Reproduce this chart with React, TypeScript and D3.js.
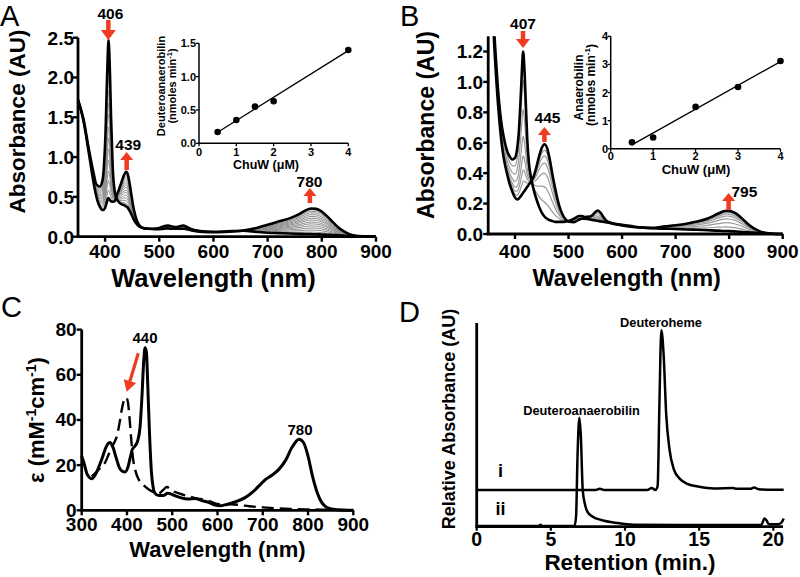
import React from "react";
import * as d3 from "d3";

// ---------- Panel A: spectra (conversion of 406 species to 439/780 species) ----------
const wlA = [350,360,370,380,383,386,390,395,398,401,403,405,406,407,409,411,414,418,422,426,430,434,437,439,441,444,448,452,456,460,465,470,480,490,500,510,515,520,530,540,545,550,560,570,580,600,620,655,680,700,720,740,760,770,780,790,800,810,820,830,840,850,860,880,900];
const startA = [1.72,1.48,1.1,0.76,0.67,0.645,0.63,0.7,0.9,1.35,1.85,2.3,2.47,2.42,2.05,1.5,0.88,0.56,0.47,0.43,0.41,0.4,0.39,0.38,0.37,0.34,0.29,0.23,0.18,0.145,0.12,0.11,0.1,0.1,0.11,0.135,0.14,0.135,0.12,0.135,0.14,0.125,0.095,0.078,0.068,0.062,0.065,0.075,0.06,0.05,0.045,0.04,0.036,0.034,0.032,0.03,0.028,0.025,0.022,0.018,0.014,0.01,0.007,0.003,0];
const endA = [1.72,1.46,1.05,0.63,0.53,0.45,0.38,0.335,0.34,0.38,0.43,0.475,0.487,0.48,0.46,0.445,0.44,0.45,0.53,0.6,0.68,0.76,0.8,0.815,0.8,0.72,0.55,0.38,0.26,0.18,0.13,0.11,0.1,0.095,0.095,0.1,0.105,0.1,0.1,0.1,0.1,0.095,0.078,0.066,0.06,0.056,0.06,0.078,0.11,0.15,0.19,0.23,0.29,0.33,0.355,0.35,0.315,0.255,0.185,0.12,0.07,0.035,0.015,0.004,0];
const fracA = [0.08,0.16,0.24,0.32,0.4,0.47,0.55,0.62,0.69,0.76,0.83,0.89,0.95];

// ---------- Panel B ----------
const wlB = [350,355,360,365,370,375,380,385,390,395,400,404,407,410,412,414,415,416,418,420,423,426,430,435,440,445,450,455,460,465,470,475,480,485,490,495,500,510,520,525,530,540,545,550,555,560,565,570,580,600,620,655,680,700,720,740,760,780,790,795,800,810,820,830,840,850,860,870,880,900];
const startB = [2.6,1.85,1.42,1.12,0.88,0.72,0.62,0.55,0.51,0.49,0.5,0.56,0.66,0.85,1.0,1.15,1.2,1.18,1.06,0.88,0.62,0.47,0.37,0.29,0.23,0.18,0.14,0.115,0.1,0.09,0.085,0.08,0.08,0.08,0.08,0.082,0.085,0.1,0.118,0.118,0.112,0.115,0.125,0.145,0.155,0.14,0.112,0.09,0.072,0.056,0.046,0.038,0.035,0.033,0.03,0.028,0.025,0.022,0.02,0.02,0.019,0.017,0.015,0.012,0.01,0.008,0.006,0.004,0.002,0];
const endB = [2.5,1.75,1.33,1.02,0.78,0.6,0.48,0.4,0.33,0.28,0.24,0.228,0.232,0.245,0.255,0.265,0.27,0.275,0.285,0.295,0.31,0.325,0.345,0.38,0.44,0.51,0.565,0.59,0.565,0.49,0.39,0.3,0.22,0.16,0.12,0.095,0.082,0.078,0.095,0.1,0.1,0.096,0.092,0.089,0.086,0.083,0.08,0.077,0.07,0.06,0.05,0.04,0.05,0.058,0.068,0.082,0.102,0.135,0.15,0.153,0.152,0.14,0.115,0.082,0.052,0.03,0.014,0.006,0.002,0];
const fracB = [0.2,0.41,0.6,0.74,0.84,0.92];

// ---------- Insets ----------
const chuwA = [0.5,1,1.5,2,4];
const rateA = [0.17,0.35,0.55,0.63,1.4];
const fitA: [number, number][] = [[0.5,0.165],[4,1.39]];
const chuwB = [0.5,1,2,3,4];
const rateB = [0.23,0.4,1.49,2.2,3.12];
const fitB: [number, number][] = [[0.5,0.14],[4,3.1]];

// ---------- Panel C ----------
const solidC: [number, number][] = [[300,24],[305,21],[312,16],[322,14],[332,16.5],[345,23],[355,28.5],[362,30],[368,28.5],[375,24],[383,19],[390,17.2],[396,17],[402,19],[408,24],[412,27],[418,28.5],[424,31],[429,37],[433,50],[437,66],[440,72],[443,70],[446,55],[450,33],[454,17],[458,10],[462,7.5],[470,6.5],[480,6.5],[490,7.5],[500,7],[510,6.2],[520,5.5],[535,5],[550,5.2],[565,4.3],[580,3.5],[595,2.3],[605,2],[620,2.6],[640,3.8],[660,5.5],[680,8.5],[695,11.5],[705,13.5],[720,15.5],[735,18],[750,22],[765,28],[780,31.5],[790,30],[800,24],[810,15],[820,8],[830,3.5],[840,1.5],[855,0.5],[880,0.1],[900,0]];
const dashedC: [number, number][] = [[322,15],[330,16.5],[340,18.5],[350,20.5],[358,24],[365,27.5],[372,30],[378,33],[383,38],[388,44],[393,48.5],[398,50],[402,48],[406,40],[410,30],[414,22],[418,18],[425,14],[432,12],[440,10.5],[450,9],[460,8],[470,7.5],[480,9],[488,10.3],[495,9.5],[505,8.2],[515,7.5],[525,6.8],[540,6],[555,5.2],[570,4.8],[585,3.8],[600,2.8],[615,2.5],[630,2.7],[650,2.3],[670,1.8],[700,1.3],[730,0.9],[760,0.6],[800,0.4],[850,0.2],[900,0]];

// ---------- Panel D (HPLC) ----------
const traceI: [number, number][] = [[0,0.18],[4,0.18],[8,0.18],[8.3,0.186],[8.6,0.18],[11.5,0.18],[11.8,0.19],[12.05,0.18],[12.2,0.2],[12.32,0.6],[12.45,0.965],[12.6,0.85],[12.78,0.55],[13.0,0.38],[13.3,0.28],[13.7,0.235],[14.2,0.21],[15,0.196],[16,0.188],[17.3,0.19],[17.5,0.186],[18.5,0.186],[18.7,0.193],[19,0.184],[20,0.182],[20.7,0.182]];
const traceII: [number, number][] = [[0,0.004],[4.2,0.004],[4.3,0.01],[4.4,0.004],[6.6,0.004],[6.7,0.05],[6.8,0.35],[6.92,0.535],[7.02,0.45],[7.15,0.18],[7.3,0.11],[7.45,0.075],[7.8,0.05],[8.4,0.033],[9.5,0.018],[10.6,0.01],[15,0.008],[19.2,0.01],[19.4,0.04],[19.55,0.03],[19.7,0.012],[20.3,0.012],[20.55,0.02],[20.7,0.04]];

// ---------- Ticks ----------
const ticksAx = [400,500,600,700,800,900];
const ticksAy = [0,0.5,1,1.5,2,2.5];
const ticksBx = [400,500,600,700,800,900];
const ticksBy = [0,0.2,0.4,0.6,0.8,1.0,1.2];
const ticksInAy = [0,0.5,1,1.5];
const ticksInBy = [0,1,2,3,4];
const ticksInX = [0,1,2,3,4];
const ticksCx = [300,400,500,600,700,800,900];
const ticksCy = [0,20,40,60,80];
const ticksDx = [0,5,10,15,20];

const FONT = "'Liberation Sans', Arial, Helvetica, sans-serif";
const RED = "#ef3b1f";

function arrowPath(cx: number, yBase: number, yTip: number, headH: number, headW: number, shaftW: number) {
  const dir = Math.sign(yTip - yBase);
  const yNeck = yTip - dir * headH;
  const hw = headW / 2, sw = shaftW / 2;
  return `M${cx},${yTip}L${cx + hw},${yNeck}L${cx + sw},${yNeck}L${cx + sw},${yBase}L${cx - sw},${yBase}L${cx - sw},${yNeck}L${cx - hw},${yNeck}Z`;
}

function mix(a: number[], b: number[], f: number) {
  return a.map((v, i) => v * (1 - f) + b[i] * f);
}

export default function App() {
  // scales
  const xA = d3.scaleLinear().domain([350, 900]).range([78, 376]);
  const yA = d3.scaleLinear().domain([0, 2.5]).range([236.7, 37.7]);
  const xB = d3.scaleLinear().domain([350, 900]).range([488.2, 782.7]);
  const yB = d3.scaleLinear().domain([0, 1.2]).range([234, 51.5]);
  const xIA = d3.scaleLinear().domain([0, 4]).range([199, 348.3]);
  const yIA = d3.scaleLinear().domain([0, 1.5]).range([143.3, 43.3]);
  const xIB = d3.scaleLinear().domain([0, 4]).range([610.7, 780.5]);
  const yIB = d3.scaleLinear().domain([0, 4]).range([148.8, 36.3]);
  const xC = d3.scaleLinear().domain([300, 900]).range([81.7, 353.3]);
  const yC = d3.scaleLinear().domain([0, 80]).range([510.3, 329.6]);
  const xD = d3.scaleLinear().domain([0, 20]).range([476.7, 773.3]);
  const yD = d3.scaleLinear().domain([0, 1]).range([526.7, 323]);

  const specLine = (wl: number[], x: any, y: any) =>
    d3.line<number>().x((_, i) => x(wl[i])).y((d) => y(d)).curve(d3.curveMonotoneX);
  const lineA = specLine(wlA, xA, yA);
  const lineB = specLine(wlB, xB, yB);
  const lineC = d3.line<[number, number]>().x((d) => xC(d[0])).y((d) => yC(d[1])).curve(d3.curveMonotoneX);
  const lineD = d3.line<[number, number]>().x((d) => xD(d[0])).y((d) => yD(d[1])).curve(d3.curveMonotoneX);
  const lineIA = d3.line<[number, number]>().x((d) => xIA(d[0])).y((d) => yIA(d[1]));
  const lineIB = d3.line<[number, number]>().x((d) => xIB(d[0])).y((d) => yIB(d[1]));

  const bold = { fontFamily: FONT, fontWeight: 700 as const };
  const axW = 2.8;

  // C arrow (data coords)
  const cTail = [xC(425), yC(69.5)];
  const cTip = [xC(399.5), yC(52.5)];
  const ang = Math.atan2(cTip[1] - cTail[1], cTip[0] - cTail[0]);
  const headL = 11, headHalf = 6.5;
  const cNeck = [cTip[0] - headL * Math.cos(ang), cTip[1] - headL * Math.sin(ang)];
  const px = -Math.sin(ang), py = Math.cos(ang);
  const cHead = `M${cTip[0]},${cTip[1]}L${cNeck[0] + px * headHalf},${cNeck[1] + py * headHalf}L${cNeck[0] - px * headHalf},${cNeck[1] - py * headHalf}Z`;

  return (
    <div style={{ position: "absolute", left: 0, top: 0 }}>
      <svg width={800} height={577} viewBox="0 0 800 577" style={{ display: "block", background: "#fff" }}>
        <defs>
          <clipPath id="clipB">
            <rect x={xB(350)} y={yB(1.3)} width={xB(900) - xB(350)} height={yB(0) - yB(1.3) + 3} />
          </clipPath>
        </defs>
        <rect width={800} height={577} fill="#fff" />

        {/* ================= Panel A ================= */}
        <text x={0} y={26} fontFamily={FONT} fontSize={29}>A</text>
        <g>
          {fracA.map((f, i) => (
            <path key={i} d={lineA(mix(startA, endA, f)) || ""} fill="none" stroke="#8d8d8d" strokeWidth={1} />
          ))}
          <path d={lineA(startA) || ""} fill="none" stroke="#000" strokeWidth={2.6} strokeLinejoin="round" />
          <path d={lineA(endA) || ""} fill="none" stroke="#000" strokeWidth={2.6} strokeLinejoin="round" />
        </g>
        {/* axes A */}
        <line x1={xA(350)} x2={xA(350)} y1={yA(2.5)} y2={yA(0)} stroke="#000" strokeWidth={axW} />
        <line x1={xA(350) - 1.4} x2={xA(900)} y1={yA(0)} y2={yA(0)} stroke="#000" strokeWidth={axW} />
        {ticksAy.map((t) => (
          <g key={t}>
            <line x1={xA(350) - 5} x2={xA(350)} y1={yA(t)} y2={yA(t)} stroke="#000" strokeWidth={2.4} />
            <text x={xA(350) - 4} y={yA(t) + 6.8} textAnchor="end" fontSize={19} {...bold}>{d3.format(".1f")(t)}</text>
          </g>
        ))}
        {ticksAx.map((t) => (
          <g key={t}>
            <line x1={xA(t)} x2={xA(t)} y1={yA(0)} y2={yA(0) + 5} stroke="#000" strokeWidth={2.4} />
            <text x={xA(t)} y={258} textAnchor="middle" fontSize={19} {...bold}>{t}</text>
          </g>
        ))}
        <text transform="translate(25,121.5) rotate(-90)" textAnchor="middle" fontSize={22.5} {...bold}>Absorbance (AU)</text>
        <text x={213.5} y={287} textAnchor="middle" fontSize={25.5} {...bold}>Wavelength (nm)</text>
        {/* peak labels A */}
        <path d={arrowPath(xA(406), 20, 40, 10, 15, 4.5)} fill={RED} />
        <text x={xA(406) + 2} y={19} textAnchor="middle" fontSize={15.5} {...bold}>406</text>
        <path d={arrowPath(xA(439.8), 170, 152, 8, 13, 4.5)} fill={RED} />
        <text x={128.3} y={150} textAnchor="middle" fontSize={15.5} {...bold}>439</text>
        <path d={arrowPath(xA(778), 203, 188, 8, 13, 4.5)} fill={RED} />
        <text x={309.5} y={186.5} textAnchor="middle" fontSize={15.5} {...bold}>780</text>

        {/* Inset A */}
        <path d={lineIA(fitA) || ""} stroke="#000" strokeWidth={1.3} fill="none" />
        {chuwA.map((c, i) => (
          <circle key={i} cx={xIA(c)} cy={yIA(rateA[i])} r={3.3} fill="#000" />
        ))}
        <line x1={xIA(0)} x2={xIA(0)} y1={yIA(1.5)} y2={yIA(0)} stroke="#000" strokeWidth={1.5} />
        <line x1={xIA(0)} x2={xIA(4)} y1={yIA(0)} y2={yIA(0)} stroke="#000" strokeWidth={1.5} />
        {ticksInAy.map((t) => (
          <g key={t}>
            <line x1={xIA(0) - 3} x2={xIA(0)} y1={yIA(t)} y2={yIA(t)} stroke="#000" strokeWidth={1.3} />
            <text x={xIA(0) - 3} y={yIA(t) + 4} textAnchor="end" fontSize={11} {...bold}>{d3.format(".1f")(t)}</text>
          </g>
        ))}
        {ticksInX.map((t) => (
          <g key={t}>
            <line x1={xIA(t)} x2={xIA(t)} y1={yIA(0)} y2={yIA(0) + 3} stroke="#000" strokeWidth={1.3} />
            <text x={xIA(t)} y={156} textAnchor="middle" fontSize={11} {...bold}>{t}</text>
          </g>
        ))}
        <text transform="translate(164.5,86) rotate(-90)" textAnchor="middle" fontSize={11} {...bold}>Deuteroanaerobilin</text>
        <text transform="translate(176,86) rotate(-90)" textAnchor="middle" fontSize={11} {...bold}>
          (nmoles min<tspan fontSize={7.5} dy={-4}>-1</tspan><tspan dy={4}>)</tspan>
        </text>
        <text x={266} y={168.5} textAnchor="middle" fontSize={12.5} {...bold}>ChuW (μM)</text>

        {/* ================= Panel B ================= */}
        <text x={400} y={26} fontFamily={FONT} fontSize={29}>B</text>
        <g clipPath="url(#clipB)">
          {fracB.map((f, i) => (
            <path key={i} d={lineB(mix(startB, endB, f)) || ""} fill="none" stroke="#9a9a9a" strokeWidth={1.2} />
          ))}
          <path d={lineB(startB) || ""} fill="none" stroke="#000" strokeWidth={2.6} strokeLinejoin="round" />
          <path d={lineB(endB) || ""} fill="none" stroke="#000" strokeWidth={2.6} strokeLinejoin="round" />
        </g>
        <line x1={xB(350)} x2={xB(350)} y1={yB(1.3)} y2={yB(0)} stroke="#000" strokeWidth={axW} />
        <line x1={xB(350) - 1.4} x2={xB(900)} y1={yB(0)} y2={yB(0)} stroke="#000" strokeWidth={axW} />
        {ticksBy.map((t) => (
          <g key={t}>
            <line x1={xB(350) - 5} x2={xB(350)} y1={yB(t)} y2={yB(t)} stroke="#000" strokeWidth={2.4} />
            <text x={xB(350) - 5} y={yB(t) + 6.8} textAnchor="end" fontSize={19} {...bold}>{d3.format(".1f")(t)}</text>
          </g>
        ))}
        {ticksBx.map((t) => (
          <g key={t}>
            <line x1={xB(t)} x2={xB(t)} y1={yB(0)} y2={yB(0) + 5} stroke="#000" strokeWidth={2.4} />
            <text x={xB(t)} y={258} textAnchor="middle" fontSize={19} {...bold}>{t}</text>
          </g>
        ))}
        <text transform="translate(434,125) rotate(-90)" textAnchor="middle" fontSize={23} {...bold}>Absorbance (AU)</text>
        <text x={626.7} y={286} textAnchor="middle" fontSize={23.5} {...bold}>Wavelength (nm)</text>
        <path d={arrowPath(xB(415), 31, 48, 9, 14, 4.5)} fill={RED} />
        <text x={523} y={29} textAnchor="middle" fontSize={15.5} {...bold}>407</text>
        <path d={arrowPath(xB(455), 142, 127, 8, 13, 4.5)} fill={RED} />
        <text x={547.5} y={123} textAnchor="middle" fontSize={15.5} {...bold}>445</text>
        <path d={arrowPath(xB(799), 210, 193, 8, 13, 4.5)} fill={RED} />
        <text x={731.5} y={196.5} textAnchor="start" fontSize={15.5} {...bold}>795</text>

        {/* Inset B */}
        <path d={lineIB(fitB) || ""} stroke="#000" strokeWidth={1.3} fill="none" />
        {chuwB.map((c, i) => (
          <circle key={i} cx={xIB(c)} cy={yIB(rateB[i])} r={3.3} fill="#000" />
        ))}
        <line x1={xIB(0)} x2={xIB(0)} y1={yIB(4)} y2={yIB(0)} stroke="#000" strokeWidth={1.5} />
        <line x1={xIB(0)} x2={xIB(4)} y1={yIB(0)} y2={yIB(0)} stroke="#000" strokeWidth={1.5} />
        {ticksInBy.map((t) => (
          <g key={t}>
            <line x1={xIB(0) - 3} x2={xIB(0)} y1={yIB(t)} y2={yIB(t)} stroke="#000" strokeWidth={1.3} />
            <text x={xIB(0) - 2.5} y={yIB(t) + 4} textAnchor="end" fontSize={11} {...bold}>{t}</text>
          </g>
        ))}
        {ticksInX.map((t) => (
          <g key={t}>
            <line x1={xIB(t)} x2={xIB(t)} y1={yIB(0)} y2={yIB(0) + 3} stroke="#000" strokeWidth={1.3} />
            <text x={xIB(t)} y={159.5} textAnchor="middle" fontSize={11} {...bold}>{t}</text>
          </g>
        ))}
        <text transform="translate(583,87.5) rotate(-90)" textAnchor="middle" fontSize={12} {...bold}>Anaerobilin</text>
        <text transform="translate(594.5,85) rotate(-90)" textAnchor="middle" fontSize={12} {...bold}>
          (nmoles min<tspan fontSize={8} dy={-4.5}>-1</tspan><tspan dy={4.5}>)</tspan>
        </text>
        <text x={696} y={174} textAnchor="middle" fontSize={13} {...bold}>ChuW (μM)</text>

        {/* ================= Panel C ================= */}
        <text x={1} y={317} fontFamily={FONT} fontSize={29}>C</text>
        <path d={lineC(dashedC) || ""} fill="none" stroke="#000" strokeWidth={2.4} strokeDasharray="12 6" />
        <path d={lineC(solidC) || ""} fill="none" stroke="#000" strokeWidth={3} strokeLinejoin="round" />
        <line x1={xC(300)} x2={xC(300)} y1={yC(80)} y2={yC(0)} stroke="#000" strokeWidth={axW} />
        <line x1={xC(300) - 1.4} x2={xC(900)} y1={yC(0)} y2={yC(0)} stroke="#000" strokeWidth={axW} />
        {ticksCy.map((t) => (
          <g key={t}>
            <line x1={xC(300) - 5} x2={xC(300)} y1={yC(t)} y2={yC(t)} stroke="#000" strokeWidth={2.4} />
            <text x={xC(300) - 5} y={yC(t) + 6.5} textAnchor="end" fontSize={19} {...bold}>{t}</text>
          </g>
        ))}
        {ticksCx.map((t) => (
          <g key={t}>
            <line x1={xC(t)} x2={xC(t)} y1={yC(0)} y2={yC(0) + 5} stroke="#000" strokeWidth={2.4} />
            <text x={xC(t)} y={531} textAnchor="middle" fontSize={19} {...bold}>{t}</text>
          </g>
        ))}
        <text transform="translate(44,420) rotate(-90)" textAnchor="middle" fontSize={22} {...bold}>
          ε (mM<tspan fontSize={14} dy={-8}>-1</tspan><tspan dy={8}>cm</tspan><tspan fontSize={14} dy={-8}>-1</tspan><tspan dy={8}>)</tspan>
        </text>
        <text x={217.5} y={557} textAnchor="middle" fontSize={22} {...bold}>Wavelength (nm)</text>
        <text x={145} y={343} textAnchor="middle" fontSize={15} {...bold}>440</text>
        <text x={300} y={435} textAnchor="middle" fontSize={15} {...bold}>780</text>
        <line x1={cTail[0]} y1={cTail[1]} x2={cNeck[0]} y2={cNeck[1]} stroke={RED} strokeWidth={3.2} />
        <path d={cHead} fill={RED} />

        {/* ================= Panel D ================= */}
        <text x={399} y={322} fontFamily={FONT} fontSize={29}>D</text>
        <path d={lineD(traceI) || ""} fill="none" stroke="#000" strokeWidth={2.5} strokeLinejoin="round" />
        <path d={lineD(traceII) || ""} fill="none" stroke="#000" strokeWidth={2.5} strokeLinejoin="round" />
        <line x1={xD(0)} x2={xD(0)} y1={yD(1)} y2={yD(0)} stroke="#000" strokeWidth={axW} />
        <line x1={xD(0) - 1.4} x2={xD(20.65)} y1={yD(0)} y2={yD(0)} stroke="#000" strokeWidth={axW} />
        {ticksDx.map((t) => (
          <g key={t}>
            <line x1={xD(t)} x2={xD(t)} y1={yD(0)} y2={yD(0) + 4} stroke="#000" strokeWidth={2.2} />
            <text x={xD(t)} y={545.5} textAnchor="middle" fontSize={19.5} {...bold}>{t}</text>
          </g>
        ))}
        <text transform="translate(455,419) rotate(-90)" textAnchor="middle" fontSize={18} {...bold}>Relative Absorbance (AU)</text>
        <text x={630} y={570} textAnchor="middle" fontSize={22.5} {...bold}>Retention (min.)</text>
        <text x={661} y={327} textAnchor="middle" fontSize={12.8} {...bold}>Deuteroheme</text>
        <text x={581.5} y={415} textAnchor="middle" fontSize={12.8} {...bold}>Deuteroanaerobilin</text>
        <text x={500.5} y={477} textAnchor="middle" fontSize={18} {...bold}>i</text>
        <text x={500.5} y={515} textAnchor="middle" fontSize={18} {...bold}>ii</text>
      </svg>
    </div>
  );
}
